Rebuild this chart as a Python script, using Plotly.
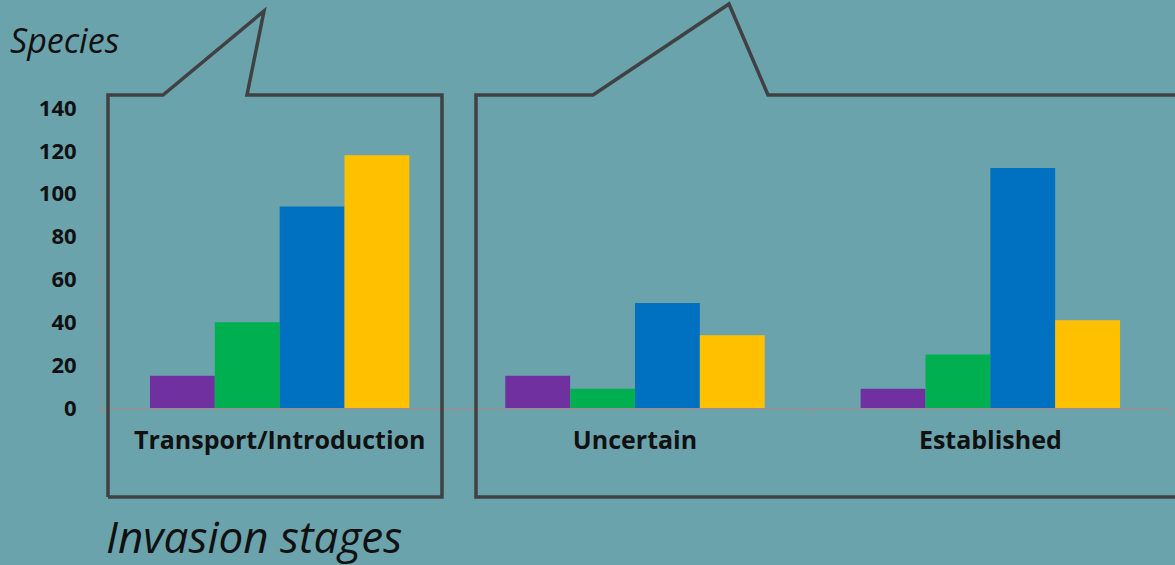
import plotly.graph_objects as go

categories = ["Transport/Introduction", "Uncertain", "Established"]
series_a = [15, 15, 9]     # purple
series_b = [40, 9, 25]     # green
series_c = [94, 49, 112]   # blue
series_d = [118, 34, 41]   # yellow
colors = ["#7030A0", "#00B050", "#0070C0", "#FFC000"]
y_ticks = [0, 20, 40, 60, 80, 100, 120, 140]

BG = "#6BA3AD"
W, H = 1175, 565
L, R, T, B = 102, 7, 108, 157
pw, ph = W - L - R, H - T - B

def px(x):
    return (x - L) / pw

def py(y):
    return (H - B - y) / ph

fig = go.Figure()
for vals, c in zip([series_a, series_b, series_c, series_d], colors):
    fig.add_trace(go.Bar(x=categories, y=vals, marker=dict(color=c, line=dict(width=0)), showlegend=False))

fig.update_layout(
    width=W, height=H,
    margin=dict(l=L, r=R, t=T, b=B, pad=0),
    paper_bgcolor=BG, plot_bgcolor=BG,
    barmode="group", bargap=0.27, bargroupgap=0,
    font=dict(family="Open Sans", color="#111111"),
)
fig.update_xaxes(
    showgrid=False, showline=True, linecolor="#8E9496", linewidth=1.5,
    ticks="outside", tickson="boundaries", ticklen=6, tickcolor="#8E9496",
    tickfont=dict(size=25, family="Open Sans", weight="bold", color="#111111"),
    ticklabelstandoff=9, zeroline=False,
)
fig.update_yaxes(
    range=[0, 140], tickvals=y_ticks, showgrid=False, showline=True,
    linecolor="#8E9496", linewidth=1, ticks="outside", ticklen=7, tickcolor="#8E9496",
    tickfont=dict(size=22, family="Open Sans", weight="bold", color="#111111"),
    ticklabelstandoff=13, zeroline=False,
)

def path(points):
    return "M " + " L ".join(f"{px(x):.5f},{py(y):.5f}" for x, y in points)

line = dict(color="#3F4142", width=3.5)
left_box = [(108, 497), (108, 95), (163, 95), (264, 11), (247, 95), (442, 95), (442, 497), (108, 497)]
right_box = [(1185, 497), (476, 497), (476, 95), (593, 95), (729, 4), (768, 95), (1185, 95)]
for pts in [left_box, right_box]:
    fig.add_shape(type="path", xref="paper", yref="paper", path=path(pts), line=line)

fig.add_annotation(x=px(8), y=py(40), xref="paper", yref="paper", xanchor="left", yanchor="middle",
                   text="<i>Species</i>", showarrow=False,
                   font=dict(size=34, family="Open Sans", color="#111111"))
fig.add_annotation(x=px(104), y=py(536), xref="paper", yref="paper", xanchor="left", yanchor="middle",
                   text="<i>Invasion stages</i>", showarrow=False,
                   font=dict(size=44, family="Open Sans", color="#111111"))

fig.write_html("out.html")
